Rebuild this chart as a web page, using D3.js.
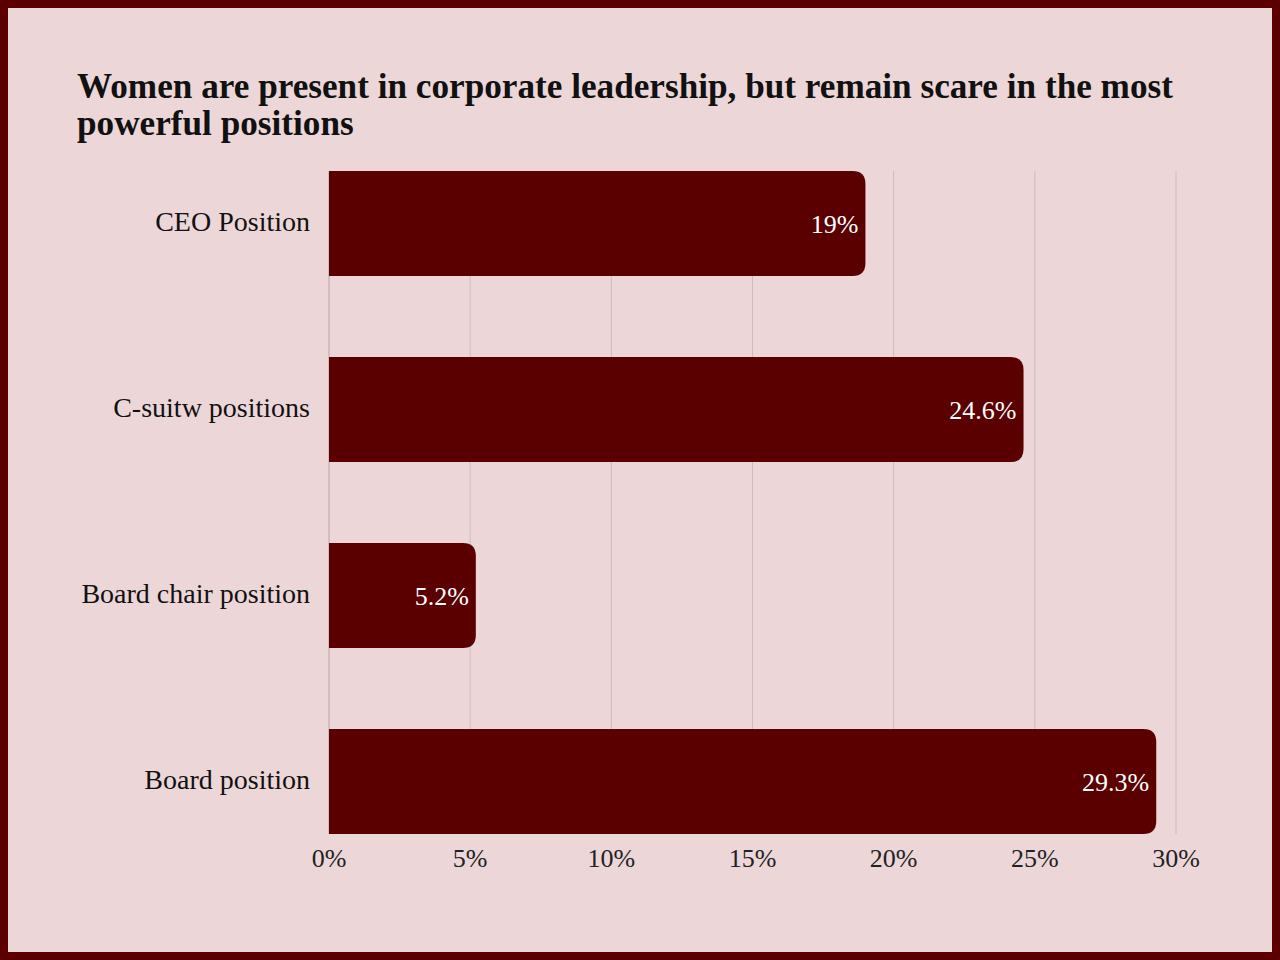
<!DOCTYPE html>
<html>
<head>
<meta charset="utf-8">
<style>
  body { margin: 0; background: #5a0000; }
  svg { display: block; }
</style>
</head>
<body>
<svg id="chart" width="1280" height="960"></svg>
<script src="https://d3js.org/d3.v7.min.js"></script>
<script>
    const categories = ['CEO Position', 'C-suitw positions', 'Board chair position', 'Board position']
    const values = [19, 24.6, 5.2, 29.3]
    const valueLabels = ['19%', '24.6%', '5.2%', '29.3%']
    const ticks = [0, 5, 10, 15, 20, 25, 30]
    const titleLines = ['Women are present in corporate leadership, but remain scare in the most', 'powerful positions']

    const serif = '"Liberation Serif", "Times New Roman", serif'
    const svg = d3.select('#chart')

    // background with dark border
    svg.append('rect')
       .attr('x', 0).attr('y', 0)
       .attr('width', 1280).attr('height', 960)
       .attr('fill', '#5a0000')
    svg.append('rect')
       .attr('x', 8).attr('y', 8)
       .attr('width', 1264).attr('height', 944)
       .attr('fill', '#ecd6d8')

    // title
    svg.append('text')
       .attr('font-family', serif)
       .attr('font-weight', 'bold')
       .attr('font-size', 35.2)
       .attr('fill', '#111')
       .selectAll('tspan')
       .data(titleLines)
       .join('tspan')
       .attr('x', 77)
       .attr('y', (d, i) => 98 + i * 37)
       .text(d => d)

    // scales
    const xScale = d3.scaleLinear()
                     .domain([0, 30])
                     .range([329, 1176])

    const yScale = d3.scaleBand()
                     .domain(categories)
                     .range([171, 834])
                     .paddingInner(0.4355)
                     .paddingOuter(0)

    // gridlines
    svg.selectAll('.grid')
       .data(ticks)
       .join('line')
       .attr('class', 'grid')
       .attr('x1', d => xScale(d)).attr('x2', d => xScale(d))
       .attr('y1', 171).attr('y2', 834)
       .attr('stroke', d => d === 0 ? '#b8a6a8' : '#cbbcbe')
       .attr('stroke-width', 1)

    // bars, rounded only at the right end
    const r = 13
    const barPath = (d, i) => {
        const x0 = xScale(0)
        const x1 = xScale(d)
        const y0 = yScale(categories[i])
        const h = yScale.bandwidth()
        const rr = Math.min(r, (x1 - x0) / 2)
        return `M${x0},${y0} H${x1 - rr} Q${x1},${y0} ${x1},${y0 + rr} V${y0 + h - rr} Q${x1},${y0 + h} ${x1 - rr},${y0 + h} H${x0} Z`
    }
    svg.selectAll('.bar')
       .data(values)
       .join('path')
       .attr('class', 'bar')
       .attr('d', barPath)
       .attr('fill', '#5a0000')

    // value labels
    svg.selectAll('.val')
       .data(values)
       .join('text')
       .attr('class', 'val')
       .attr('x', d => xScale(d) - 7)
       .attr('y', (d, i) => yScale(categories[i]) + yScale.bandwidth() / 2 + 0.5)
       .attr('dy', '0.35em')
       .attr('text-anchor', 'end')
       .attr('font-family', serif)
       .attr('font-size', 26)
       .attr('fill', '#ffffff')
       .text((d, i) => valueLabels[i])

    // category labels
    svg.selectAll('.cat')
       .data(categories)
       .join('text')
       .attr('class', 'cat')
       .attr('x', 310)
       .attr('y', d => yScale(d) + yScale.bandwidth() / 2 - 2)
       .attr('dy', '0.35em')
       .attr('text-anchor', 'end')
       .attr('font-family', serif)
       .attr('font-size', 28)
       .attr('fill', '#111')
       .text(d => d)

    // x tick labels
    svg.selectAll('.tick')
       .data(ticks)
       .join('text')
       .attr('class', 'tick')
       .attr('x', d => xScale(d))
       .attr('y', 867)
       .attr('text-anchor', 'middle')
       .attr('font-family', serif)
       .attr('font-size', 26)
       .attr('fill', '#222')
       .text(d => d + '%')
</script>
</body>
</html>
